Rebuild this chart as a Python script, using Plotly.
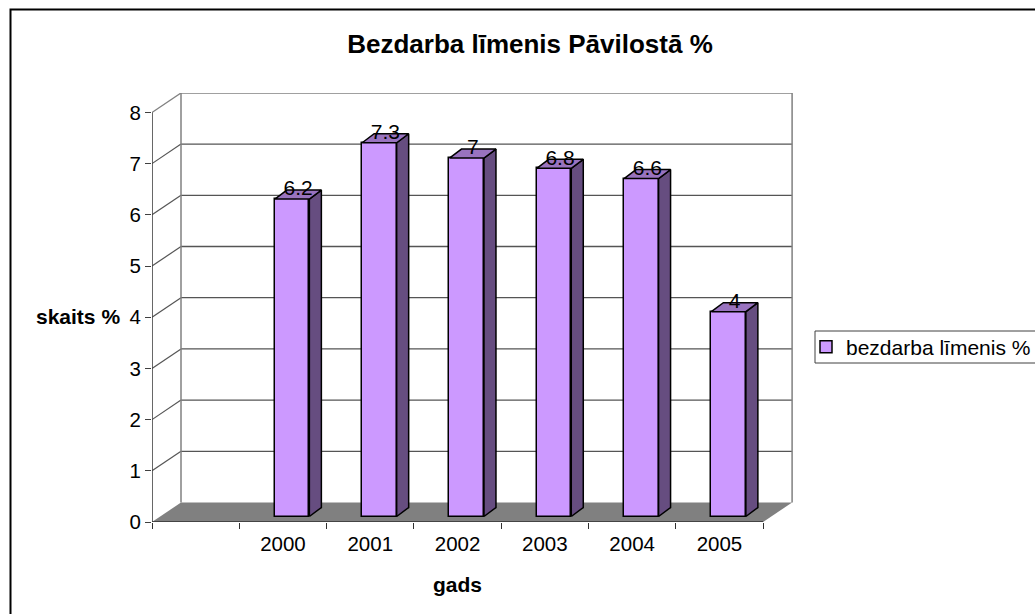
import plotly.graph_objects as go

categories = ["2000", "2001", "2002", "2003", "2004", "2005"]
values = [6.2, 7.3, 7.0, 6.8, 6.6, 4.0]
value_labels = ["6.2", "7.3", "7", "6.8", "6.6", "4"]
y_ticks = [0, 1, 2, 3, 4, 5, 6, 7, 8]
series_name = "bezdarba līmenis %"

W, H = 1035, 614
L, R, T, B = 152, 793, 93, 522
UX, UY = 87.3, 51.2           # pixels per category / per y unit
DX, DY = 29 / UX, 19.5 / UY   # wall depth in axis units
BX, BY = 12 / UX, 9 / UY      # bar depth in axis units
BAR_W = 34.5 / UX
BAR_SHIFT = 0.105
BAR_BASE = 5.5 / UY
NCAT = len(categories) + 1
FONT = "Liberation Sans, Arial, sans-serif"
PURPLE, TOPC, SIDEC = "#CC99FF", "#9973BF", "#664D80"

pos = [i + 1.5 for i in range(len(categories))]
bar_x = [p + BAR_SHIFT for p in pos]

shapes = []
def line(x0, y0, x1, y1, color, width=1.3):
    shapes.append(dict(type="line", layer="below", xref="x", yref="y", x0=x0, y0=y0, x1=x1, y1=y1,
                       line=dict(color=color, width=width)))

# outer frame
shapes.append(dict(type="rect", xref="paper", yref="paper", layer="below",
                   x0=(10.5 - L) / (R - L), x1=(1045 - L) / (R - L),
                   y0=(B - 625) / (B - T), y1=(B - 9.5) / (B - T),
                   line=dict(color="black", width=2), fillcolor="white"))
# legend box
shapes.append(dict(type="rect", xref="paper", yref="paper", layer="below",
                   x0=(815 - L) / (R - L), x1=(1045 - L) / (R - L),
                   y0=(B - 363) / (B - T), y1=(B - 331) / (B - T),
                   line=dict(color="#404040", width=1), fillcolor="white"))
# floor
shapes.append(dict(type="path", layer="below", xref="x", yref="y",
                   path=f"M0,0 L{NCAT},0 L{NCAT+DX},{DY} L{DX},{DY} Z",
                   fillcolor="#808080", line=dict(width=0)))
# gridlines on back and side walls
for k in y_ticks[1:]:
    c = "#808080" if k == y_ticks[-1] else "#555555"
    line(DX, k + DY, NCAT + DX, k + DY, c, 1.5 if k == y_ticks[-1] else 1.3)
    line(0, k, DX, k + DY, c, 1.2)
line(DX, DY, DX, y_ticks[-1] + DY, "#808080", 1.5)
line(NCAT + DX, DY, NCAT + DX, y_ticks[-1] + DY, "#808080", 1.5)

fig = go.Figure()
fig.add_trace(go.Bar(x=bar_x, y=values, base=BAR_BASE, width=BAR_W, name=series_name,
                     marker=dict(color=PURPLE, line=dict(color="black", width=1.5))))
for bx, v in zip(bar_x, values):
    top = BAR_BASE + v
    x0, x1 = bx - BAR_W / 2, bx + BAR_W / 2
    fig.add_trace(go.Scatter(x=[x1, x1 + BX, x1 + BX, x1, x1], y=[BAR_BASE, BAR_BASE + BY, top + BY, top, BAR_BASE],
                             mode="lines", fill="toself", fillcolor=SIDEC, line=dict(color="black", width=1.5),
                             showlegend=False, hoverinfo="skip"))
    fig.add_trace(go.Scatter(x=[x0, x0 + BX, x1 + BX, x1, x0], y=[top, top + BY, top + BY, top, top],
                             mode="lines", fill="toself", fillcolor=TOPC, line=dict(color="black", width=1.5),
                             showlegend=False, hoverinfo="skip"))
# axis lines
fig.add_trace(go.Scatter(x=[0, 0], y=[0, y_ticks[-1]], mode="lines", line=dict(color="#404040", width=1.6),
                         showlegend=False, hoverinfo="skip", cliponaxis=False))
fig.add_trace(go.Scatter(x=[0, NCAT], y=[0, 0], mode="lines", line=dict(color="#303030", width=1.6),
                         showlegend=False, hoverinfo="skip", cliponaxis=False))
# data labels
fig.add_trace(go.Scatter(x=[b + BX / 2 for b in bar_x], y=[BAR_BASE + v + BY for v in values],
                         text=value_labels, mode="text", textposition="middle center",
                         textfont=dict(family=FONT, size=21, color="black"),
                         showlegend=False, hoverinfo="skip", cliponaxis=False))

fig.update_layout(
    width=W, height=H, showlegend=True,
    margin=dict(l=L, r=W - R, t=T, b=H - B, pad=0, autoexpand=False),
    paper_bgcolor="white", plot_bgcolor="rgba(0,0,0,0)",
    shapes=shapes, bargap=0,
    font=dict(family=FONT, size=20, color="black"),
    title=dict(text="<b>Bezdarba līmenis Pāvilostā %</b>", x=530 / W, xanchor="center", xref="container",
               y=1 - 44 / H, yanchor="middle", font=dict(family=FONT, size=26)),
    xaxis=dict(range=[0, (R - L) / UX], tickvals=pos, ticktext=categories, ticks="", showgrid=False, zeroline=False,
               showline=False, ticklabelstandoff=7, tickfont=dict(size=20.5),
               minor=dict(tickvals=list(range(NCAT + 1)), ticks="outside", ticklen=6, tickcolor="#303030", tickwidth=1.2, showgrid=False)),
    yaxis=dict(range=[0, (B - T) / UY], tickvals=y_ticks, ticks="outside", ticklen=6, tickwidth=1.2, tickcolor="#404040",
               showgrid=False, zeroline=False, showline=False, tickfont=dict(size=20.5)),
    legend=dict(x=(806 - L) / (R - L), y=(B - 347) / (B - T), xanchor="left", yanchor="middle",
                bgcolor="rgba(0,0,0,0)", borderwidth=0, font=dict(family=FONT, size=21)),
    annotations=[
        dict(text="<b>skaits %</b>", xref="paper", yref="paper", x=(78 - L) / (R - L), y=(B - 316) / (B - T),
             xanchor="center", yanchor="middle", showarrow=False, font=dict(family=FONT, size=21)),
        dict(text="<b>gads</b>", xref="paper", yref="paper", x=(457 - L) / (R - L), y=(B - 584) / (B - T),
             xanchor="center", yanchor="middle", showarrow=False, font=dict(family=FONT, size=21)),
    ],
)
fig.write_html("out.html", config={"displayModeBar": False}, post_script="document.body.style.margin='0';")
